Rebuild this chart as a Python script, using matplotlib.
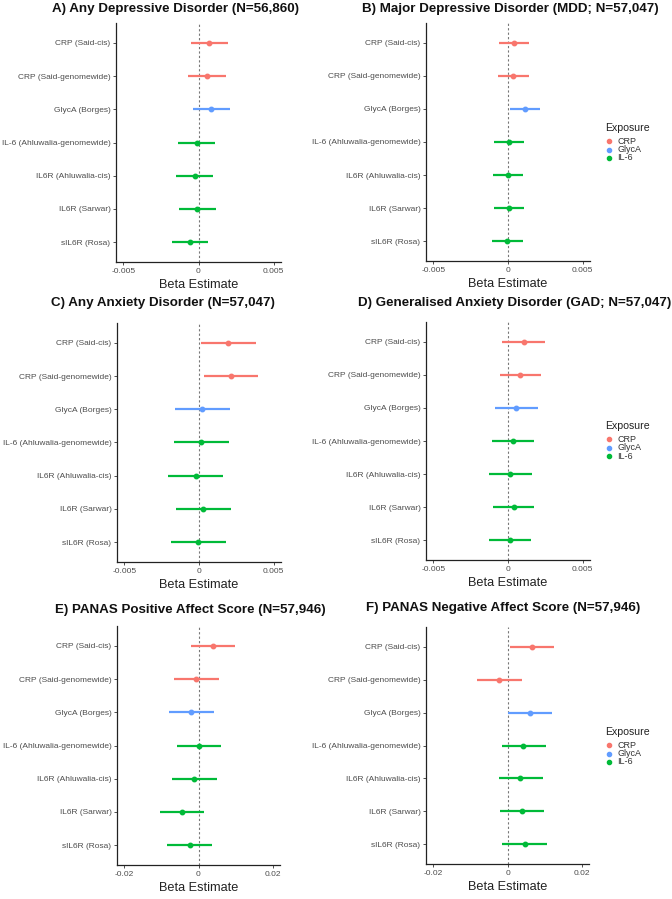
import matplotlib
matplotlib.use("Agg")
import matplotlib.pyplot as plt

plt.rcParams['font.family'] = ['Liberation Sans', 'DejaVu Sans']

W, H = 672, 899

labels = ["CRP (Said-cis)", "CRP (Said-genomewide)", "GlycA (Borges)",
          "IL-6 (Ahluwalia-genomewide)", "IL6R (Ahluwalia-cis)",
          "IL6R (Sarwar)", "sIL6R (Rosa)"]
exposure = ["CRP", "CRP", "GlycA", "IL-6", "IL-6", "IL-6", "IL-6"]
colors = {"CRP": "#F8766D", "GlycA": "#619CFF", "IL-6": "#00BA38"}

titles = ["A) Any Depressive Disorder (N=56,860)",
          "B) Major Depressive Disorder (MDD; N=57,047)",
          "C) Any Anxiety Disorder (N=57,047)",
          "D) Generalised Anxiety Disorder (GAD; N=57,047)",
          "E) PANAS Positive Affect Score (N=57,946)",
          "F) PANAS Negative Affect Score (N=57,946)"]

# beta estimates and 95% CI per panel
est_a = [0.00073, 0.00056, 0.00082, -0.00013, -0.00024, -0.00009, -0.00058]
lo_a = [-0.00049, -0.00067, -0.00038, -0.00136, -0.00147, -0.00131, -0.0018]
hi_a = [0.00196, 0.0018, 0.00207, 0.00111, 0.00098, 0.00118, 0.00064]

est_b = [0.00038, 0.00034, 0.00114, 0.00004, 0.0, 0.00007, -0.00004]
lo_b = [-0.00063, -0.00069, 0.00013, -0.00096, -0.001, -0.00094, -0.00108]
hi_b = [0.00141, 0.00139, 0.00215, 0.00108, 0.00103, 0.00108, 0.001]

est_c = [0.00197, 0.00213, 0.0002, 0.00016, -0.00022, 0.00029, -0.00004]
lo_c = [0.00013, 0.00031, -0.00164, -0.0017, -0.00206, -0.00155, -0.00188]
hi_c = [0.00383, 0.00399, 0.00206, 0.002, 0.00161, 0.00213, 0.00179]

est_d = [0.00105, 0.00083, 0.00056, 0.00034, 0.00016, 0.00038, 0.00013]
lo_d = [-0.00038, -0.00056, -0.00085, -0.00107, -0.00125, -0.001, -0.00127]
hi_d = [0.00246, 0.00221, 0.002, 0.00175, 0.00159, 0.00177, 0.00155]

est_e = [0.00396, -0.00063, -0.00189, 0.0001, -0.00108, -0.0045, -0.00234]
lo_e = [-0.00207, -0.00674, -0.0079, -0.0059, -0.0071, -0.0104, -0.0084]
hi_e = [0.00998, 0.0054, 0.00423, 0.0061, 0.00494, 0.0016, 0.0037]

est_f = [0.0065, -0.00216, 0.006, 0.0043, 0.0035, 0.0038, 0.0047]
lo_f = [0.0006, -0.0082, 0.0, -0.0016, -0.0023, -0.0021, -0.0014]
hi_f = [0.0126, 0.004, 0.012, 0.0104, 0.0095, 0.0099, 0.0106]

panels = [(est_a, lo_a, hi_a), (est_b, lo_b, hi_b), (est_c, lo_c, hi_c),
          (est_d, lo_d, hi_d), (est_e, lo_e, hi_e), (est_f, lo_f, hi_f)]
xticks_small = [-0.005, 0, 0.005]
xticklabels_small = ["-0.005", "0", "0.005"]
xticks_big = [-0.02, 0, 0.02]
xticklabels_big = ["-0.02", "0", "0.02"]

# axes boxes in pixels: left, right, top, bottom
boxes = [(116, 281, 23, 262), (426, 590, 23, 261),
         (117, 281, 323, 562), (426, 590, 322, 560),
         (117, 280, 626, 865), (426, 589, 627, 864)]
title_pos = [(176, 9), (510, 9), (163, 303), (515, 303), (190, 610), (503, 608)]
legend_y = {1: 128, 3: 426, 5: 732}

fig = plt.figure(figsize=(W / 100, H / 100), dpi=100)
fig.patch.set_facecolor("white")

txt_grey = "#4D4D4D"

for k, (est, lo, hi) in enumerate(panels):
    l, r, t, b = boxes[k]
    ax = fig.add_axes([l / W, 1 - b / H, (r - l) / W, (b - t) / H])
    ys = list(range(len(labels) - 1, -1, -1))
    ax.axvline(0, color="#777777", lw=0.8, ls=(0, (2, 2)), zorder=1)
    for i in range(len(labels)):
        c = colors[exposure[i]]
        ax.hlines(ys[i], lo[i], hi[i], color=c, lw=1.6, zorder=2)
        ax.plot(est[i], ys[i], "o", color=c, ms=3.2, zorder=3)
    ax.set_ylim(-0.6, len(labels) - 0.4)
    ax.set_yticks(ys)
    ax.set_yticklabels(labels, fontsize=6, color=txt_grey)
    if k < 4:
        ax.set_xlim(-0.0055, 0.0055)
        ax.set_xticks(xticks_small)
        ax.set_xticklabels(xticklabels_small)
    else:
        ax.set_xlim(-0.022, 0.022)
        ax.set_xticks(xticks_big)
        ax.set_xticklabels(xticklabels_big)
    ax.tick_params(axis="x", labelsize=6, labelcolor=txt_grey, length=2.5,
                   width=0.6, color="#333333", pad=1.5)
    ax.tick_params(axis="y", length=2.5, width=0.6, color="#333333", pad=1.5)
    for s in ["top", "right"]:
        ax.spines[s].set_visible(False)
    for s in ["left", "bottom"]:
        ax.spines[s].set_color("#222222")
        ax.spines[s].set_linewidth(0.9)
    ax.set_xlabel("Beta Estimate", fontsize=9.2, color="#222222", labelpad=3)
    tx, ty = title_pos[k]
    fig.text(tx / W, 1 - ty / H, titles[k], fontsize=9.6, fontweight="bold",
             ha="center", va="center", color="#111111")

    if k in legend_y:
        ly = legend_y[k]
        fig.text(605 / W, 1 - ly / H, "Exposure", fontsize=7.6, ha="left",
                 va="center", color="#222222")
        for j, name in enumerate(["CRP", "GlycA", "IL-6"]):
            yy = ly + 13 + j * 8.5
            fig.lines.append(plt.Line2D([609 / W], [1 - yy / H], marker="o",
                                        ms=3.0, color=colors[name],
                                        transform=fig.transFigure))
            fig.text(617 / W, 1 - yy / H, name, fontsize=6.5, ha="left",
                     va="center", color="#333333")

fig.savefig("out.png", dpi=100, facecolor="white")
